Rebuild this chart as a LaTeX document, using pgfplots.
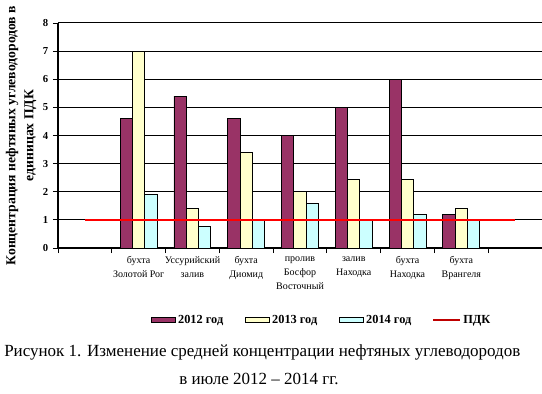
\documentclass[border=0pt]{standalone}
\usepackage{fontspec}
\setmainfont{Liberation Serif}
\usepackage{pgfplots}
\pgfplotsset{compat=1.18}
\definecolor{cA}{HTML}{993366}
\definecolor{cB}{HTML}{FFFFCC}
\definecolor{cC}{HTML}{CCFFFF}
\pgfplotsset{
  barleg/.style={legend image code/.code={\draw[##1] (0pt,-1.9pt) rectangle (18pt,1.9pt);}},
  lineleg/.style={legend image code/.code={\draw[##1, line width=1pt, color=red!75!black] (0pt,0pt) -- (20pt,0pt);}},
}
\begin{document}
\begin{tikzpicture}[x=0.75pt,y=0.75pt]
\useasboundingbox (0,0) rectangle (542,393);
\begin{axis}[
  at={(43.5pt,108.75pt)}, anchor=south west,
  scale only axis, width=363pt, height=168.75pt,
  xmin=-0.5, xmax=8.5, ymin=0, ymax=8,
  axis x line*=bottom, axis y line*=left,
  axis line style={black, line width=0.8pt},
  xtick={-0.5,0.5,...,8.5},
  xticklabels={,,,,,,,,,,},
  extra x ticks={1,...,7},
  extra x tick labels={{бухта\\Золотой Рог},{Уссурийский\\залив},{бухта\\Диомид},{пролив\\Босфор\\Восточный},{залив\\Находка},{бухта\\Находка},{бухта\\Врангеля}},
  extra x tick style={major tick length=0pt, xticklabel style={align=center, font=\fontsize{7.5}{10.5}\selectfont, anchor=north, yshift=-3pt}},
  xtick align=outside, ytick align=outside,
  major tick length=3.75pt,
  xtick style={black, line width=0.7pt},
  ytick={0,...,7},
  extra y ticks={8},
  extra y tick style={grid style={gray!70, line width=0.8pt}},
  ymajorgrids, major grid style={black, line width=0.75pt},
  yticklabel style={font=\bfseries\fontsize{8}{9}\selectfont, /pgf/number format/assume math mode=true},
  ytick style={black, line width=0.7pt},
  ylabel={Концентрация нефтяных углеводородов в\\единицах ПДК},
  ylabel style={at={(axis description cs:-0.0764,0.5)}, anchor=center, align=center, font=\bfseries\fontsize{10.25}{13.5}\selectfont},
  legend style={at={(axis description cs:0.545,-0.32)}, anchor=center, draw=none, fill=none,
    font=\bfseries\fontsize{9.25}{10}\selectfont, legend columns=4,
    /tikz/every even column/.append style={column sep=14pt}},
  legend cell align=left,
]
\addplot[ybar, bar width=0.229, bar shift=-0.229, fill=cA, draw=black, line width=0.7pt, barleg]
  coordinates {(1,4.6) (2,5.4) (3,4.6) (4,4.0) (5,5.0) (6,6.0) (7,1.18)};
\addlegendentry{2012 год}
\addplot[ybar, bar width=0.229, bar shift=0, fill=cB, draw=black, line width=0.7pt, barleg]
  coordinates {(1,7.0) (2,1.4) (3,3.4) (4,2.0) (5,2.42) (6,2.42) (7,1.4)};
\addlegendentry{2013 год}
\addplot[ybar, bar width=0.229, bar shift=0.229, fill=cC, draw=black, line width=0.7pt, barleg]
  coordinates {(1,1.9) (2,0.78) (3,1.0) (4,1.57) (5,1.0) (6,1.18) (7,1.0)};
\addlegendentry{2014 год}
\addplot[red, line width=1.5pt, mark=none, sharp plot, lineleg]
  coordinates {(0,1) (1,1) (2,1) (3,1) (4,1) (5,1) (6,1) (7,1) (8,1)};
\addlegendentry{ПДК}
\end{axis}
\node[anchor=base west, font=\fontsize{12.75}{14}\selectfont, inner sep=0pt] at (4,37) {Рисунок 1. Изменение средней концентрации нефтяных углеводородов};
\node[anchor=base, font=\fontsize{12.75}{14}\selectfont, inner sep=0pt] at (259,9) {в июле 2012 – 2014 гг.};
\end{tikzpicture}
\end{document}
